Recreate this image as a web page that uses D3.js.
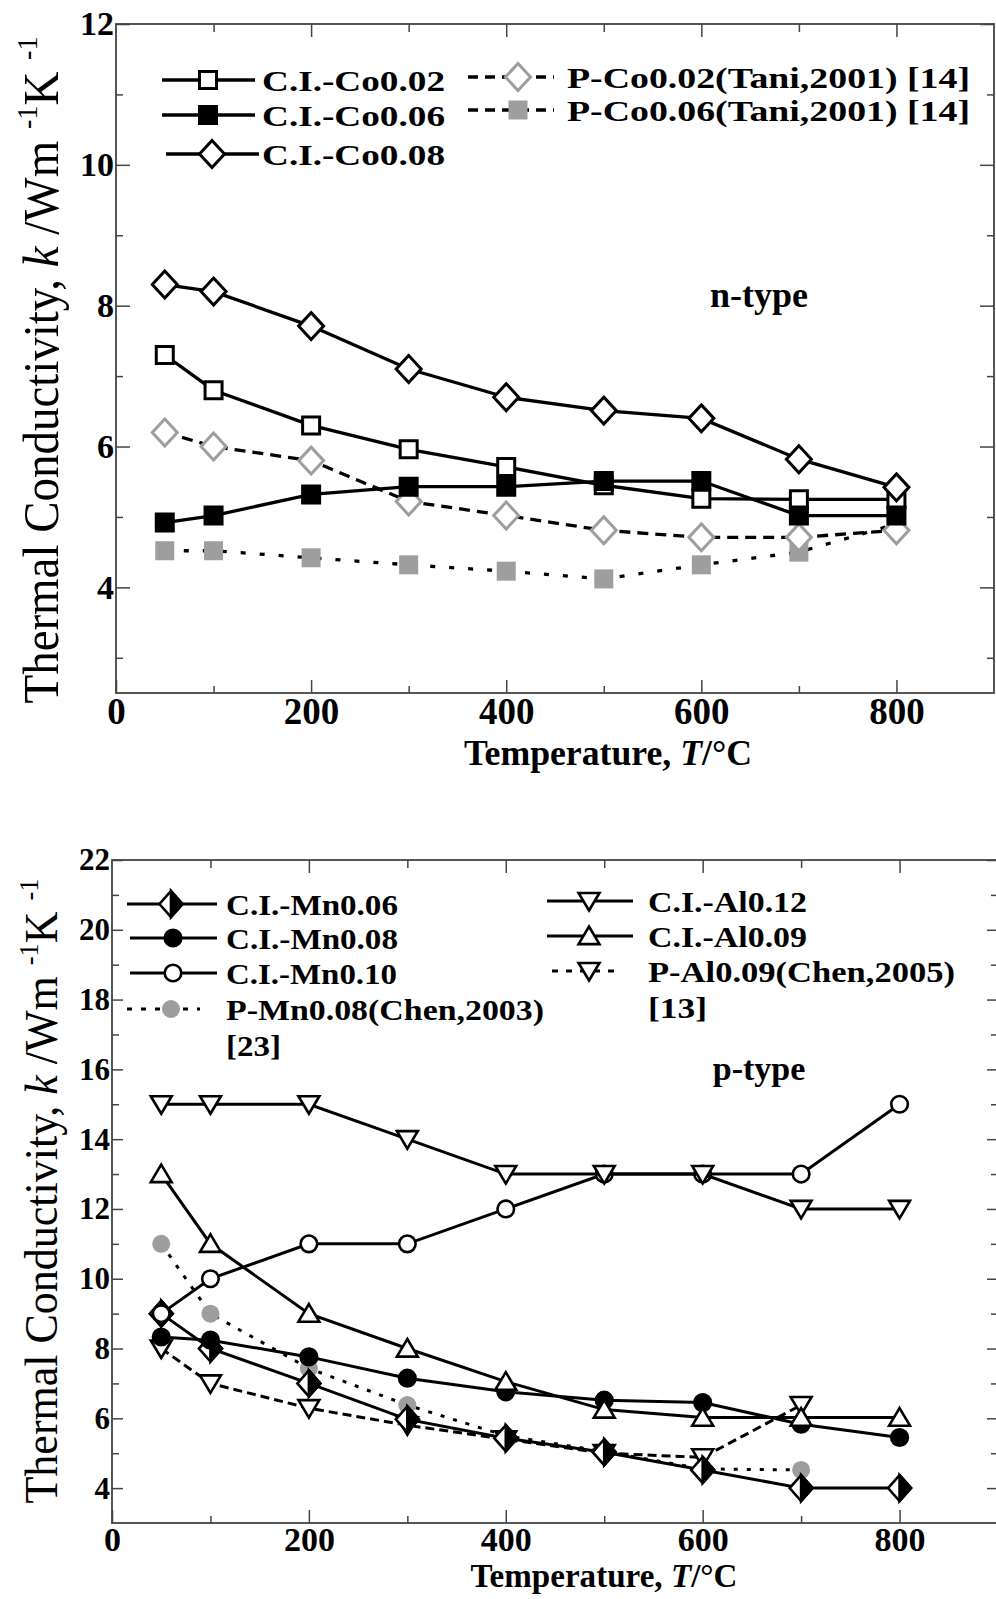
<!DOCTYPE html>
<html>
<head>
<meta charset="utf-8">
<script src="https://cdn.jsdelivr.net/npm/d3@7"></script>
<style>
  body { margin: 0; background: #fff; }
  text { font-family: "Liberation Serif", "Times New Roman", serif; }
</style>
</head>
<body>
<svg id="chart" width="996" height="1599"></svg>
<script>
// temperatures (degC)
const temps = [50, 100, 200, 300, 400, 500, 600, 700, 800];
const tempsRef = [50, 100, 200, 300, 400, 500, 600, 700];

// n-type, k in W/mK
const nCICo002 = [7.3, 6.8, 6.3, 5.96, 5.71, 5.45, 5.26, 5.25, 5.25];
const nCICo006 = [4.92, 5.02, 5.32, 5.43, 5.43, 5.51, 5.51, 5.02, 5.02];
const nCICo008 = [8.3, 8.2, 7.71, 7.1, 6.7, 6.51, 6.4, 5.82, 5.42];
const nPCo002 = [6.2, 6.0, 5.8, 5.22, 5.02, 4.81, 4.71, 4.71, 4.81];
const nPCo006 = [4.52, 4.52, 4.42, 4.32, 4.23, 4.12, 4.32, 4.5, 4.9];

// p-type, k in W/mK
const pCIMn006 = [9.0, 8.0, 7.0, 5.97, 5.43, 5.03, 4.52, 4.0, 4.0];
const pCIMn008 = [8.33, 8.24, 7.76, 7.15, 6.76, 6.52, 6.45, 5.83, 5.45];
const pCIMn010 = [9.0, 10.0, 11.0, 11.0, 12.0, 13.0, 13.0, 13.0, 15.0];
const pPMn008 = [11.0, 9.0, 7.43, 6.38, 5.5, 5.05, 4.55, 4.52];
const pCIAl012 = [15, 15, 15, 14, 13, 13, 13, 12, 12];
const pCIAl009 = [13, 11, 9, 8, 7.05, 6.25, 6.02, 6.02, 6.02];
const pPAl009 = [8.0, 7.0, 6.29, 5.8, 5.4, 5.0, 4.88, 6.38];

// ticks
const xMajor = [0, 200, 400, 600, 800];
const xMinor = [100, 300, 500, 700];
const nYMajor = [4, 6, 8, 10, 12];
const nYMinor = [3, 5, 7, 9, 11];
const pYMajor = [4, 6, 8, 10, 12, 14, 16, 18, 20, 22];
const pYMinor = [5, 7, 9, 11, 13, 15, 17, 19, 21];

const GREY = "#9e9e9e";
const svg = d3.select("#chart");

// marker shapes, centred on 0,0
function markerPath(type, s) {
  const r = s.r, h = s.h || s.r;
  switch (type) {
    case "square":
      return `M${-r},${-r}H${r}V${r}H${-r}Z`;
    case "diamond":
    case "halfDiamond":
      return `M0,${-h}L${r},0L0,${h}L${-r},0Z`;
    case "circle":
      return `M${r},0A${r},${r} 0 1,1 ${-r},0A${r},${r} 0 1,1 ${r},0Z`;
    case "triUp":
      return `M0,${-r}L${r * 1.1},${r * 0.85}L${-r * 1.1},${r * 0.85}Z`;
    case "triDown":
      return `M0,${r}L${r * 1.1},${-r * 0.85}L${-r * 1.1},${-r * 0.85}Z`;
  }
}

function drawMarker(g, s) {
  const size = s.size;
  g.append("path")
    .attr("d", markerPath(s.marker, size))
    .attr("fill", s.fill)
    .attr("stroke", s.stroke)
    .attr("stroke-width", s.stroke === "none" ? 0 : size.sw)
    .attr("stroke-linejoin", "miter");
  if (s.marker === "halfDiamond") {
    const r = size.r, h = size.h;
    g.append("path")
      .attr("d", `M0,${-h}L${r},0L0,${h}Z`)
      .attr("fill", "#000")
      .attr("stroke", "#000")
      .attr("stroke-width", size.sw);
  }
}

function drawPanel(p) {
  const x = d3.scaleLinear().domain([0, 900]).range([p.left, p.right]);
  const y = d3.scaleLinear().domain(p.yDomain).range([p.bottom, p.top]);
  const g = svg.append("g");

  const axisG = g.append("g").attr("class", "axes");
  const tickStyle = sel => {
    sel.select(".domain").remove();
    sel.selectAll("line").attr("stroke", "#444").attr("stroke-width", 1.5);
  };

  // bottom axis with labels
  axisG.append("g")
    .attr("transform", `translate(0,${p.bottom})`)
    .call(d3.axisBottom(x).tickValues(xMajor).tickSize(-13).tickPadding(p.xPad))
    .call(tickStyle)
    .call(a => a.selectAll("text")
      .attr("font-size", p.xTickSize).attr("font-weight", "bold")
      .attr("fill", "#000").attr("font-family", "Liberation Serif"));
  axisG.append("g")
    .attr("transform", `translate(0,${p.bottom})`)
    .call(d3.axisBottom(x).tickValues(xMinor).tickSize(-7).tickFormat(""))
    .call(tickStyle);
  // top axis, ticks only
  axisG.append("g")
    .attr("transform", `translate(0,${p.top})`)
    .call(d3.axisTop(x).tickValues(xMajor.slice(1)).tickSize(-13).tickFormat(""))
    .call(tickStyle);
  axisG.append("g")
    .attr("transform", `translate(0,${p.top})`)
    .call(d3.axisTop(x).tickValues(xMinor).tickSize(-8).tickFormat(""))
    .call(tickStyle);
  // left axis with labels
  axisG.append("g")
    .attr("transform", `translate(${p.left},0)`)
    .call(d3.axisLeft(y).tickValues(p.yMajor).tickSize(-p.yTickLen).tickPadding(2))
    .call(tickStyle)
    .call(a => a.selectAll("text")
      .attr("font-size", p.yTickSize).attr("font-weight", "bold")
      .attr("fill", "#000").attr("font-family", "Liberation Serif"));
  axisG.append("g")
    .attr("transform", `translate(${p.left},0)`)
    .call(d3.axisLeft(y).tickValues(p.yMinor).tickSize(-7).tickFormat(""))
    .call(tickStyle);
  // right axis, ticks only
  axisG.append("g")
    .attr("transform", `translate(${p.right},0)`)
    .call(d3.axisRight(y).tickValues(p.yMajor).tickSize(-p.yTickLen).tickFormat(""))
    .call(tickStyle);
  axisG.append("g")
    .attr("transform", `translate(${p.right},0)`)
    .call(d3.axisRight(y).tickValues(p.yMinor).tickSize(-7).tickFormat(""))
    .call(tickStyle);

  // frame
  g.append("rect")
    .attr("x", p.left).attr("y", p.top)
    .attr("width", p.right - p.left).attr("height", p.bottom - p.top)
    .attr("fill", "none").attr("stroke", "#444").attr("stroke-width", 1.8);

  // series
  const line = d3.line().x(d => x(d[0])).y(d => y(d[1]));
  p.series.forEach(s => {
    const pts = s.x.map((t, i) => [t, s.y[i]]);
    g.append("path")
      .datum(pts)
      .attr("d", line)
      .attr("fill", "none")
      .attr("stroke", "#000")
      .attr("stroke-width", p.lineW)
      .attr("stroke-dasharray", s.dash || null);
    pts.forEach(d => {
      const m = g.append("g").attr("transform", `translate(${x(d[0])},${y(d[1])})`);
      drawMarker(m, s);
    });
  });

  // legend
  const leg = g.append("g").attr("class", "legend");
  p.series.forEach(s => {
    const L = s.leg;
    const lg = leg.append("g").attr("transform", `translate(0,${L.y})`);
    lg.append("line")
      .attr("x1", L.x1).attr("x2", L.x2)
      .attr("stroke", "#000").attr("stroke-width", p.lineW)
      .attr("stroke-dasharray", s.legDash || null);
    const m = lg.append("g").attr("transform", `translate(${L.mx},0)`);
    drawMarker(m, s);
    s.label.forEach((str, i) => {
      lg.append("text")
        .attr("x", L.tx).attr("y", p.legBase + i * p.legRow)
        .attr("font-size", p.legSize).attr("font-weight", "bold")
        .attr("textLength", L.len[i]).attr("lengthAdjust", "spacingAndGlyphs")
        .text(str);
    });
  });

  // type annotation
  g.append("text")
    .attr("x", p.note.x).attr("y", p.note.y)
    .attr("text-anchor", "middle")
    .attr("font-size", p.note.size).attr("font-weight", "bold")
    .text(p.note.text);

  // x axis title
  const xt = g.append("text")
    .attr("x", p.xTitle.x).attr("y", p.xTitle.y)
    .attr("text-anchor", "middle")
    .attr("font-size", p.xTitle.size).attr("font-weight", "bold")
    .attr("textLength", p.xTitle.len).attr("lengthAdjust", "spacingAndGlyphs");
  xt.append("tspan").text("Temperature, ");
  xt.append("tspan").attr("font-style", "italic").text("T");
  xt.append("tspan").text("/\u00B0C");

  // y axis title
  const fs = p.yTitle.size;
  const yt = g.append("text")
    .attr("transform", `translate(${p.yTitle.x},${p.yTitle.y}) rotate(-90)`)
    .attr("text-anchor", "middle")
    .attr("font-size", fs)
    .attr("textLength", p.yTitle.len).attr("lengthAdjust", "spacingAndGlyphs");
  yt.append("tspan").text("Thermal Conductivity, ");
  yt.append("tspan").attr("font-style", "italic").text("k");
  yt.append("tspan").text(" /Wm ");
  yt.append("tspan").attr("font-size", fs * 0.6).attr("dy", -fs * 0.42).text("-1");
  yt.append("tspan").attr("dy", fs * 0.42).text("K ");
  yt.append("tspan").attr("font-size", fs * 0.6).attr("dy", -fs * 0.42).text("-1");
}

// marker sizes
const nOpenSq = { r: 8.5, sw: 3 };
const nGreySq = { r: 9.5, sw: 0 };
const nDia = { r: 12.5, h: 13.5, sw: 3 };
const pCirc = { r: 8.3, sw: 2.6 };
const pGreyCirc = { r: 9, sw: 0 };
const pTri = { r: 9.5, sw: 2.6 };
const pDia = { r: 11.5, h: 13, sw: 2.6 };

// n-type panel
drawPanel({
  left: 116, right: 994, top: 24, bottom: 693,
  yDomain: [2.5, 12], yMajor: nYMajor, yMinor: nYMinor, yTickLen: 14,
  xTickSize: 37, yTickSize: 34, xPad: 5,
  lineW: 3.3, legSize: 30, legBase: 11, legRow: 36,
  note: { text: "n-type", x: 759, y: 307, size: 36 },
  xTitle: { x: 608, y: 765, size: 36, len: 288 },
  yTitle: { x: 58, y: 370, size: 50, len: 667 },
  series: [
    { label: ["P-Co0.06(Tani,2001) [14]"], x: temps, y: nPCo006, marker: "square",
      size: nGreySq, fill: GREY, stroke: "none", dash: "5,14", legDash: "10,7",
      leg: { y: 110, x1: 468, x2: 554, mx: 518, tx: 567, len: [403] } },
    { label: ["P-Co0.02(Tani,2001) [14]"], x: temps, y: nPCo002, marker: "diamond",
      size: nDia, fill: "#fff", stroke: GREY, dash: "11,7", legDash: "10,7",
      leg: { y: 77, x1: 468, x2: 554, mx: 518, tx: 567, len: [403] } },
    { label: ["C.I.-Co0.02"], x: temps, y: nCICo002, marker: "square",
      size: nOpenSq, fill: "#fff", stroke: "#000",
      leg: { y: 80, x1: 162, x2: 255, mx: 208, tx: 262, len: [183] } },
    { label: ["C.I.-Co0.06"], x: temps, y: nCICo006, marker: "square",
      size: nOpenSq, fill: "#000", stroke: "#000",
      leg: { y: 115, x1: 162, x2: 255, mx: 208, tx: 262, len: [183] } },
    { label: ["C.I.-Co0.08"], x: temps, y: nCICo008, marker: "diamond",
      size: nDia, fill: "#fff", stroke: "#000",
      leg: { y: 154, x1: 166, x2: 259, mx: 212, tx: 262, len: [183] } }
  ]
});

// p-type panel
drawPanel({
  left: 112, right: 998, top: 860, bottom: 1523,
  yDomain: [3, 22], yMajor: pYMajor, yMinor: pYMinor, yTickLen: 11,
  xTickSize: 34, yTickSize: 31, xPad: 4,
  lineW: 3, legSize: 30, legBase: 11, legRow: 36,
  note: { text: "p-type", x: 759, y: 1080, size: 34 },
  xTitle: { x: 604, y: 1587, size: 33, len: 267 },
  yTitle: { x: 57, y: 1191, size: 46, len: 625 },
  series: [
    { label: ["P-Mn0.08(Chen,2003)", "[23]"], x: tempsRef, y: pPMn008, marker: "circle",
      size: pGreyCirc, fill: GREY, stroke: "none", dash: "4,9", legDash: "5,9",
      leg: { y: 1009, x1: 127, x2: 200, mx: 171, tx: 226, len: [318, 55] } },
    { label: ["P-Al0.09(Chen,2005)", "[13]"], x: tempsRef, y: pPAl009, marker: "triDown",
      size: pTri, fill: "#fff", stroke: "#000", dash: "9,5", legDash: "6,8",
      leg: { y: 971, x1: 552, x2: 622, mx: 589, tx: 648, len: [307, 59] } },
    { label: ["C.I.-Mn0.06"], x: temps, y: pCIMn006, marker: "halfDiamond",
      size: pDia, fill: "#fff", stroke: "#000",
      leg: { y: 904, x1: 127, x2: 217, mx: 171, tx: 226, len: [172] } },
    { label: ["C.I.-Mn0.08"], x: temps, y: pCIMn008, marker: "circle",
      size: pCirc, fill: "#000", stroke: "#000",
      leg: { y: 938, x1: 130, x2: 217, mx: 173, tx: 226, len: [172] } },
    { label: ["C.I.-Mn0.10"], x: temps, y: pCIMn010, marker: "circle",
      size: pCirc, fill: "#fff", stroke: "#000",
      leg: { y: 973, x1: 130, x2: 217, mx: 173, tx: 226, len: [171] } },
    { label: ["C.I.-Al0.12"], x: temps, y: pCIAl012, marker: "triDown",
      size: pTri, fill: "#fff", stroke: "#000",
      leg: { y: 901, x1: 547, x2: 633, mx: 589, tx: 648, len: [159] } },
    { label: ["C.I.-Al0.09"], x: temps, y: pCIAl009, marker: "triUp",
      size: pTri, fill: "#fff", stroke: "#000",
      leg: { y: 936, x1: 547, x2: 633, mx: 589, tx: 648, len: [159] } }
  ]
});
</script>
</body>
</html>
